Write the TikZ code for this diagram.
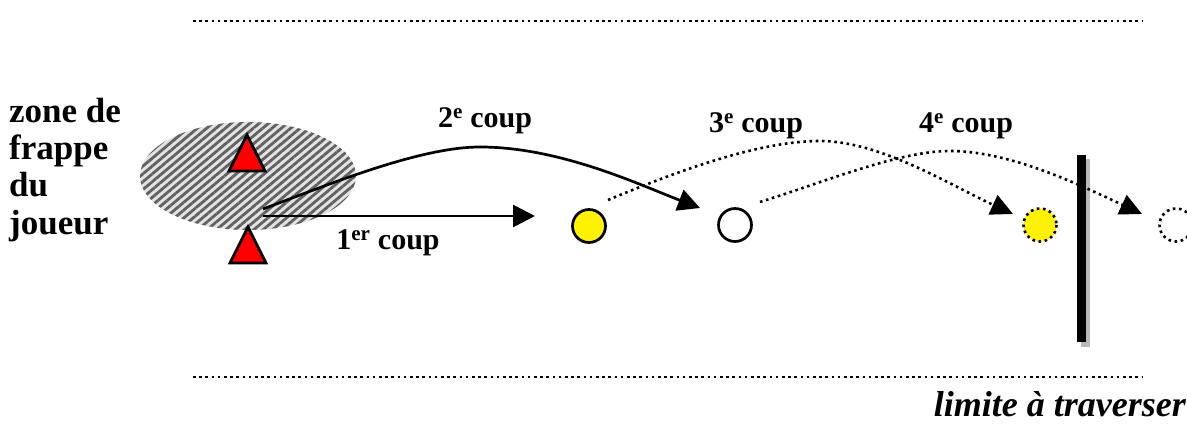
\documentclass[tikz,border=0pt]{standalone}
\usepackage{fontspec}
\setmainfont{Liberation Serif}
\usetikzlibrary{arrows.meta,patterns.meta}
\begin{document}
\begin{tikzpicture}[x=1pt,y=-1pt,
  lbl/.style={font=\fontsize{30}{36}\selectfont\bfseries, inner sep=0pt, anchor=base},
  dotline/.style={line width=2.6pt, dash pattern=on 2.6pt off 3.6pt},
  solidarrow/.style={line width=2.7pt, -{Triangle[length=22pt,width=22pt]}},
  dotarrow/.style={dotline, -{Triangle[length=22pt,width=21pt]}},
  ball/.style={circle, minimum size=33pt, inner sep=0pt, line width=2.7pt},
  player/.style={draw=black, fill=red, line width=2.7pt, line join=miter},
  zone/.style={pattern={Lines[angle=40,distance=6pt,line width=2.8pt]}, pattern color=black!62},
]
\clip (0,0) rectangle (1187,427);
% boundary lines
\draw[dotline] (193,21) -- (1142,21);
\draw[dotline] (193,377) -- (1142,377);
% player zone
\fill[gray!22] (248,176) ellipse [x radius=108, y radius=54];
\path[zone] (248,176) ellipse [x radius=108, y radius=54];
% players
\path[player] (247,135) -- (265,171) -- (229,171) -- cycle;
\path[player] (248,227) -- (266,263) -- (230,263) -- cycle;
% crossing limit (bar)
\fill[gray!55] (1081,159) rectangle (1090,347);
\fill[black] (1077,155) rectangle (1086,342);
% balls
\node[ball, draw=black, fill=yellow] (ball1) at (589,226) {};
\node[ball, draw=black, fill=white] (ball2) at (735,225) {};
\node[ball, fill=yellow] (ball3) at (1040,225) {};
\draw[dotline] (ball3.center) circle (16.5);
\node[ball] (ball4) at (1176,225) {};
\draw[dotline] (ball4.center) circle (16.5);
% stroke coordinates
\coordinate (s1) at (263,216);
\coordinate (e1) at (535,216);
\coordinate (s2) at (263,209);
\coordinate (p2) at (480,147);
\coordinate (e2) at (700,208);
\coordinate (s3) at (608,200);
\coordinate (p3) at (820,141);
\coordinate (e3) at (1013,214);
\coordinate (s4) at (760,202);
\coordinate (p4) at (950,151);
\coordinate (e4) at (1142,214);
% strokes
\draw[solidarrow] (s1) -- (e1);
\draw[solidarrow] (s2) .. controls (330,184) and (420,147) .. (p2)
  .. controls (560,147) and (640,185) .. (e2);
\draw[dotarrow] (s3) .. controls (680,170) and (760,141) .. (p3)
  .. controls (880,141) and (950,185) .. (e3);
\draw[dotarrow] (s4) .. controls (830,180) and (900,151) .. (p4)
  .. controls (1010,151) and (1080,185) .. (e4);
% labels
\node[lbl] (l1) at (388,250) {1\textsuperscript{er} coup};
\node[lbl] (l2) at (485,128) {2\textsuperscript{e} coup};
\node[lbl] (l3) at (756,133) {3\textsuperscript{e} coup};
\node[lbl] (l4) at (966,133) {4\textsuperscript{e} coup};
\node[font=\fontsize{35}{37.2}\selectfont\bfseries, align=left, inner sep=0pt, anchor=north west] (zonetxt) at (9,98) {zone de\\frappe\\du\\joueur};
\node[font=\fontsize{36}{40}\selectfont\bfseries\itshape, inner sep=0pt, anchor=base east] (limite) at (1186,417) {limite à traverser};
\end{tikzpicture}
\end{document}
